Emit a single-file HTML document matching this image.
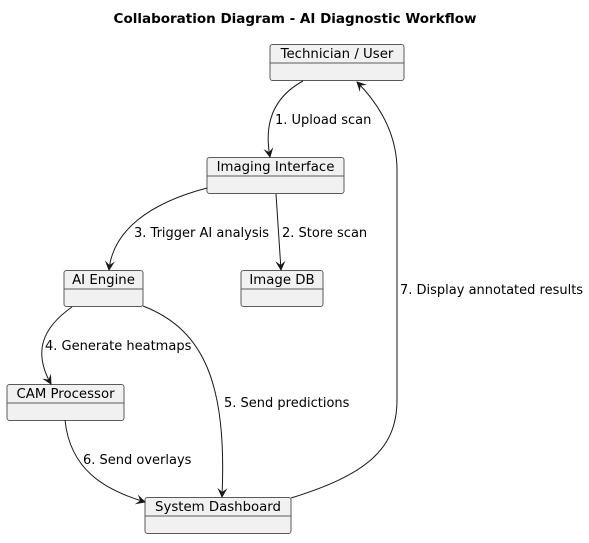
<!DOCTYPE html>
<html><head><style>body{margin:0;background:#fff}</style></head><body>
<svg width="589" height="538" xmlns="http://www.w3.org/2000/svg" font-family="DejaVu Sans, sans-serif">
<defs><marker id="a" viewBox="0 0 10 10" refX="9" refY="5" markerWidth="10" markerHeight="10" orient="auto" markerUnits="userSpaceOnUse"><path d="M0,0 L10,5 L0,10 L4,5 Z" fill="#181818"/></marker></defs>
<text x="295" y="23" font-size="13.5" font-weight="bold" text-anchor="middle" fill="#000">Collaboration Diagram - AI Diagnostic Workflow</text>
<g fill="#f1f1f1" stroke="#5a5a5a" stroke-width="1">
<rect x="270" y="44.5" width="134" height="36" rx="2.5"/><line x1="270" y1="63" x2="404" y2="63"/>
<rect x="207" y="157.5" width="137" height="36" rx="2.5"/><line x1="207" y1="176" x2="344" y2="176"/>
<rect x="64" y="270.5" width="79" height="36" rx="2.5"/><line x1="64" y1="289" x2="143" y2="289"/>
<rect x="241" y="270.5" width="82" height="36" rx="2.5"/><line x1="241" y1="289" x2="323" y2="289"/>
<rect x="7" y="384.5" width="117" height="36" rx="2.5"/><line x1="7" y1="403" x2="124" y2="403"/>
<rect x="145" y="497.5" width="146" height="36" rx="2.5"/><line x1="145" y1="516" x2="291" y2="516"/>
</g>
<g font-size="13.3" fill="#000" text-anchor="middle">
<text x="337" y="58">Technician / User</text>
<text x="275.5" y="171">Imaging Interface</text>
<text x="103.5" y="284">AI Engine</text>
<text x="282" y="284">Image DB</text>
<text x="65.5" y="398">CAM Processor</text>
<text x="218" y="511">System Dashboard</text>
</g>
<g fill="none" stroke="#181818" stroke-width="1" marker-end="url(#a)">
<path d="M303,81 C272,98 264,125 270,157"/>
<path d="M276,194 L281,270"/>
<path d="M207,188 C150,203 113,230 109,270"/>
<path d="M72,307 C42,328 33,352 51,384"/>
<path d="M143,306 C205,330 227,385 222,497"/>
<path d="M65,420 C70,470 105,490 145,502"/>
<path d="M291,498 C365,475 397,450 397,400 L397,170 C397,135 380,105 357,82"/>
</g>
<g font-size="13" fill="#000">
<text x="275" y="124">1. Upload scan</text>
<text x="282" y="237">2. Store scan</text>
<text x="134" y="237">3. Trigger AI analysis</text>
<text x="45" y="350">4. Generate heatmaps</text>
<text x="224" y="407">5. Send predictions</text>
<text x="83" y="464">6. Send overlays</text>
<text x="400" y="294">7. Display annotated results</text>
</g>
</svg>
</body></html>
